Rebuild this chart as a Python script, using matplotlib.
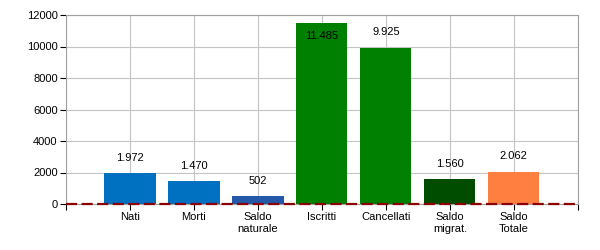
import matplotlib
matplotlib.use("Agg")
import matplotlib.pyplot as plt

categories = ["Nati", "Morti", "Saldo\nnaturale", "Iscritti", "Cancellati", "Saldo\nmigrat.", "Saldo\nTotale"]
values = [1972, 1470, 502, 11485, 9925, 1560, 2062]
colors = ["#0070C0", "#0070C0", "#2458A8", "#008000", "#008000", "#004D00", "#FF7F40"]
yticks = [0, 2000, 4000, 6000, 8000, 10000, 12000]

plt.rcParams['font.family'] = ['Liberation Sans', 'DejaVu Sans']

fig = plt.figure(figsize=(6, 2.5), dpi=100)
ax = fig.add_axes([0.11, 0.184, 0.853, 0.756])

positions = list(range(1, len(categories) + 1))
ax.bar(positions, values, width=0.8, color=colors, zorder=3)

ax.set_xlim(0, len(categories) + 1)
ax.set_ylim(0, 12000)
ax.set_yticks(yticks)
ax.set_yticklabels([str(v) for v in yticks], fontsize=8)
ax.set_xticks(range(0, len(categories) + 2))
ax.set_xticklabels([""] + categories + [""], fontsize=8, linespacing=1.2)
ax.grid(True, color="#C4C4C4", linewidth=0.8, zorder=0)
ax.set_axisbelow(True)
for s in ax.spines.values():
    s.set_color("#A0A0A0")
    s.set_linewidth(0.8)
ax.tick_params(axis="both", length=4, width=0.8, color="black", pad=2)

ax.axhline(0, color="#8B0000", linestyle=(0, (5, 2)), linewidth=1.6, zorder=4, clip_on=False)

def fmt(v):
    return f"{v:,}".replace(",", ".")

for x, v in zip(positions, values):
    if v > 10800:
        ax.annotate(fmt(v), (x, v), xytext=(0, -9), textcoords="offset points",
                    ha="center", va="center", fontsize=8, zorder=5)
    else:
        ax.annotate(fmt(v), (x, v), xytext=(0, 11), textcoords="offset points",
                    ha="center", va="center", fontsize=8, zorder=5)

fig.savefig("out.png", dpi=100)
